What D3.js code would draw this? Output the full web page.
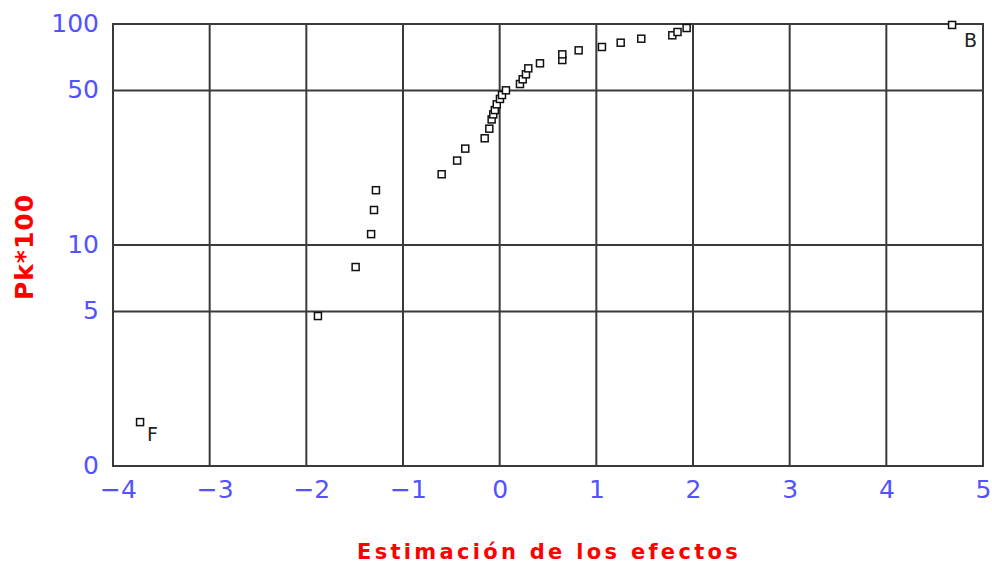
<!DOCTYPE html>
<html>
<head>
<meta charset="utf-8">
<script src="https://cdn.jsdelivr.net/npm/d3@7/dist/d3.min.js"></script>
<style>
  html, body { margin: 0; padding: 0; background: #fff; }
  svg { display: block; }
</style>
</head>
<body>
<svg id="chart" width="992" height="565"></svg>
<script>
// Normal probability plot of the estimated effects
const effects = [-3.72, -1.88, -1.49, -1.33, -1.30, -1.28, -0.60, -0.44, -0.356, -0.155,
  -0.107, -0.083, -0.066, -0.05, -0.03, 0.003, 0.024, 0.065, 0.21, 0.238,
  0.272, 0.296, 0.417, 0.648, 0.648, 0.817, 1.058, 1.252, 1.465, 1.786,
  1.84, 1.934, 4.68];
const pk100 = [1.58, 4.77, 7.95, 11.2, 14.4, 17.7, 20.9, 24.1, 27.3, 30.4,
  33.6, 37.0, 39.0, 40.8, 43.3, 45.8, 47.7, 50.1, 53.5, 56.2,
  59.2, 63.0, 66.4, 68.7, 72.9, 76.0, 78.7, 82.3, 85.8, 88.9,
  92.0, 95.9, 99.0];
// labelled effects
const labelIndex = [0, 32];
const labelText = ["F", "B"];

const xTicks = [-4, -3, -2, -1, 0, 1, 2, 3, 4, 5];
const yTicks = [1, 5, 10, 50, 100];
const yTickLabels = ["0", "5", "10", "50", "100"];

const svg = d3.select("#chart");
const plotL = 113, plotR = 983, plotT = 24, plotB = 466;

const x = d3.scaleLinear().domain([-4, 5]).range([plotL, plotR]);
const y = d3.scaleLog().domain([1, 100]).range([plotB, plotT]);

const gridColor = "#3a3a3a";
const tickColor = "#5252ff";

// grid
const grid = svg.append("g");
grid.selectAll("line.v").data(xTicks).enter().append("line")
  .attr("x1", d => x(d)).attr("x2", d => x(d))
  .attr("y1", plotT).attr("y2", plotB)
  .attr("stroke", gridColor).attr("stroke-width", 2);
grid.selectAll("line.h").data(yTicks).enter().append("line")
  .attr("y1", d => y(d)).attr("y2", d => y(d))
  .attr("x1", plotL).attr("x2", plotR)
  .attr("stroke", gridColor).attr("stroke-width", 2);
grid.append("rect")
  .attr("x", plotL).attr("y", plotT).attr("width", plotR - plotL).attr("height", plotB - plotT)
  .attr("fill", "none").attr("stroke", gridColor).attr("stroke-width", 2);

// x tick labels
const xAxis = d3.axisBottom(x).tickValues(xTicks).tickSize(0).tickPadding(0)
  .tickFormat(d => d < 0 ? "\u2212" + Math.abs(d) : String(d));
const gx = svg.append("g").attr("transform", `translate(0,${plotB})`).call(xAxis);
gx.select(".domain").remove();
gx.selectAll("text")
  .attr("y", 25).attr("dy", null)
  .attr("font-family", "DejaVu Sans, sans-serif").attr("font-size", 25)
  .attr("fill", tickColor).attr("dominant-baseline", "middle")
  .attr("dx", d => d < 0 ? 5 : 0);

// y tick labels
const yAxis = d3.axisLeft(y).tickValues(yTicks).tickSize(0).tickPadding(0)
  .tickFormat((d, i) => yTickLabels[i]);
const gy = svg.append("g").attr("transform", `translate(${plotL - 14},0)`).call(yAxis);
gy.select(".domain").remove();
gy.selectAll("text")
  .attr("dy", null).attr("dominant-baseline", "middle")
  .attr("font-family", "DejaVu Sans, sans-serif").attr("font-size", 25)
  .attr("fill", tickColor);

// points
const pts = effects.map((e, i) => ({ e, p: pk100[i] }));
svg.append("g").selectAll("rect").data(pts).enter().append("rect")
  .attr("x", d => x(d.e) - 3.5).attr("y", d => y(d.p) - 3.5)
  .attr("width", 7).attr("height", 7)
  .attr("fill", "#fff").attr("stroke", "#111").attr("stroke-width", 1.5);

// effect labels, set just below and right of their points
const labelShift = [[7, 13], [12, 17]];
svg.append("g").selectAll("text").data(labelIndex).enter().append("text")
  .attr("x", (d, i) => x(effects[d]) + labelShift[i][0])
  .attr("y", (d, i) => y(pk100[d]) + labelShift[i][1])
  .attr("dominant-baseline", "middle")
  .attr("font-family", "DejaVu Sans, sans-serif").attr("font-size", 19)
  .attr("fill", "#222")
  .text((d, i) => labelText[i]);

// axis titles
svg.append("text")
  .attr("x", 549).attr("y", 559)
  .attr("text-anchor", "middle")
  .attr("font-family", "DejaVu Sans, sans-serif").attr("font-weight", "bold")
  .attr("font-size", 21).attr("letter-spacing", 3.3)
  .attr("fill", "#ff0000")
  .text("Estimación de los efectos");

svg.append("text")
  .attr("transform", "translate(33,247) rotate(-90)")
  .attr("text-anchor", "middle")
  .attr("font-family", "DejaVu Sans, sans-serif").attr("font-weight", "bold")
  .attr("font-size", 25).attr("letter-spacing", 1)
  .attr("fill", "#ff0000")
  .text("Pk*100");
</script>
</body>
</html>
